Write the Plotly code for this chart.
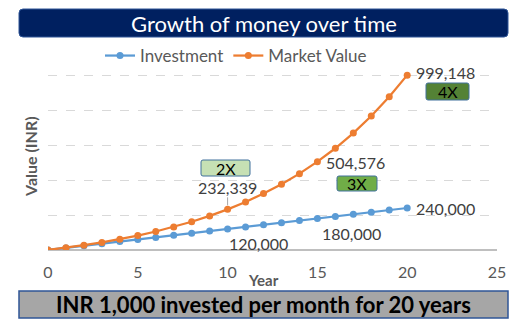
import plotly.graph_objects as go

years = list(range(0, 21))
investment = [0, 12000, 24000, 36000, 48000, 60000, 72000, 84000, 96000, 108000, 120000,
              132000, 144000, 156000, 168000, 180000, 192000, 204000, 216000, 228000, 240000]
market_value = [0, 12809, 27243, 43508, 61835, 82486, 105757, 131979, 161527, 194822, 232339,
                274615, 322252, 375931, 436418, 504576, 581378, 667921, 765439, 875325, 999148]
multiples = ["2X", "3X", "4X"]
title_text = "Growth of money over time"
footer_text = "INR 1,000 invested per month for 20 years"

W, H = 522, 333
L, R, T, B = 48, 25, 40, 83
PW, PH = W - L - R, H - T - B

def px(x):
    return (x - L) / PW

def py(y):
    return (H - B - y) / PH

BLUE = "#5b9bd5"
ORANGE = "#ed7d31"
GREY = "#595959"
FONT = "Lato"

fig = go.Figure()
fig.add_trace(go.Scatter(x=years, y=investment, name="Investment", mode="lines+markers",
                         line=dict(color=BLUE, width=2.25), marker=dict(size=7, color=BLUE)))
fig.add_trace(go.Scatter(x=years, y=market_value, name="Market Value", mode="lines+markers",
                         line=dict(color=ORANGE, width=2.25), marker=dict(size=7, color=ORANGE)))

def rounded(x0, y0, x1, y1, r):
    X0, X1 = px(x0), px(x1)
    Y0, Y1 = py(y0), py(y1)
    rx, ry = r / PW, r / PH
    return (f"M {X0+rx},{Y0} L {X1-rx},{Y0} Q {X1},{Y0} {X1},{Y0-ry} "
            f"L {X1},{Y1+ry} Q {X1},{Y1} {X1-rx},{Y1} L {X0+rx},{Y1} Q {X0},{Y1} {X0},{Y1+ry} "
            f"L {X0},{Y0-ry} Q {X0},{Y0} {X0+rx},{Y0} Z")

shapes = [
    dict(type="path", xref="paper", yref="paper", path=rounded(19, 9, 508, 37, 4),
         fillcolor="#002060", line=dict(color="#2f5597", width=1)),
    dict(type="rect", xref="paper", yref="paper", x0=px(19), x1=px(508), y0=py(291), y1=py(318),
         fillcolor="#a6a6a6", line=dict(color="#2f5597", width=1.5)),
]

box_specs = [  # (x0, y0, x1, y1, fill)
    (201, 160, 250, 176, "#c6e0b4"),
    (337, 176, 377, 191, "#70ad47"),
    (426, 83, 469, 100, "#548235"),
]
for (x0, y0, x1, y1, fill) in box_specs:
    shapes.append(dict(type="path", xref="paper", yref="paper", path=rounded(x0, y0, x1, y1, 2),
                       fillcolor=fill, line=dict(color="#41719c", width=1)))

annotations = [
    dict(text=title_text, xref="paper", yref="paper", x=px(263.5), y=py(23), showarrow=False,
         font=dict(family=FONT, size=22, color="white"), xanchor="center", yanchor="middle"),
    dict(text="<b>" + footer_text + "</b>", xref="paper", yref="paper", x=px(263.5), y=py(304.5),
         showarrow=False, font=dict(family=FONT, size=22, color="black"),
         xanchor="center", yanchor="middle"),
    dict(text="<b>Year</b>", xref="paper", yref="paper", x=px(263), y=py(280), showarrow=False,
         font=dict(family=FONT, size=15, color=GREY), xanchor="center", yanchor="middle"),
    dict(text="<b>Value (INR)</b>", xref="paper", yref="paper", x=px(30), y=py(157), showarrow=False,
         textangle=-90, font=dict(family=FONT, size=16, color=GREY),
         xanchor="center", yanchor="middle"),
]

for (x0, y0, x1, y1, fill), t in zip(box_specs, multiples):
    annotations.append(dict(text=t, xref="paper", yref="paper", x=px((x0 + x1) / 2),
                            y=py((y0 + y1) / 2), showarrow=False,
                            font=dict(family=FONT, size=16, color="black"),
                            xanchor="center", yanchor="middle", borderpad=0))

LBL = dict(family=FONT, size=16, color="#404040")

def fmt(v):
    return f"{v:,}"

# labelled points
annotations.append(dict(x=10, y=market_value[10], text=fmt(market_value[10]), showarrow=True,
                        arrowhead=0, arrowcolor="#a6a6a6", arrowwidth=1, ax=0, ay=-22,
                        standoff=4, font=LBL, borderpad=0))
for (i, series, xs, ys) in [(10, investment, 0, -14), (15, investment, 4, -15),
                            (20, investment, 8, 0), (20, market_value, 8, 3),
                            (15, market_value, 8, -1)]:
    annotations.append(dict(x=years[i], y=series[i], text=fmt(series[i]), showarrow=False,
                            xanchor="left", yanchor="middle", xshift=xs, yshift=ys, font=LBL,
                            borderpad=0))

fig.update_layout(
    width=W, height=H, margin=dict(l=L, r=R, t=T, b=B),
    paper_bgcolor="white", plot_bgcolor="white",
    font=dict(family=FONT, color=GREY),
    showlegend=True,
    legend=dict(orientation="h", x=px(236), y=py(56), xanchor="center", yanchor="middle",
                bgcolor="rgba(0,0,0,0)", font=dict(family=FONT, size=17, color=GREY),
                itemwidth=30, tracegroupgap=0),
    shapes=shapes, annotations=annotations,
    xaxis=dict(range=[0, 25], dtick=5, tick0=0, showgrid=False, zeroline=False,
               showline=False, ticks="outside", ticklen=8, tickcolor="rgba(0,0,0,0)",
               tickfont=dict(family=FONT, size=16, color=GREY)),
    yaxis=dict(range=[0, 1200000], dtick=200000, showgrid=True, gridcolor="#d9d9d9",
               griddash="dash", gridwidth=1, showticklabels=False, zeroline=True,
               zerolinecolor="#bfbfbf", zerolinewidth=1.5, showline=False),
)

fig.write_html("out.html")
